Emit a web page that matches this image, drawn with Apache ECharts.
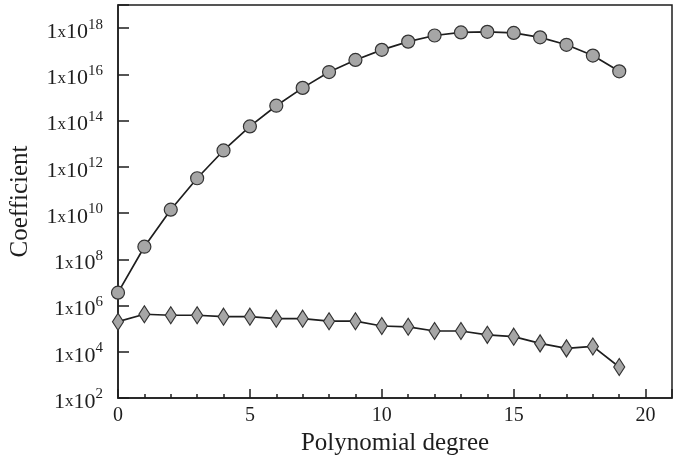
<!doctype html>
<html>
    <head>
        <meta charset="UTF-8">
        <title>Coefficient vs polynomial degree</title>
        <script src="https://cdn.jsdelivr.net/npm/echarts@6/dist/echarts.min.js"></script>
        <style>
            html, body { margin: 0; padding: 0; background: #fff; }
        </style>
    </head>
    <body>
        <div id="main" style="width: 685px;height:461px;"></div>
        <script type="text/javascript">
        // data
        var degrees = [0, 1, 2, 3, 4, 5, 6, 7, 8, 9, 10, 11, 12, 13, 14, 15, 16, 17, 18, 19];
        var circleCoef = [3.6e6, 3.5e8, 1.4e10, 3.2e11, 5.1e12, 5.6e13, 4.4e14, 2.6e15, 1.26e16, 4.2e16,
                          1.15e17, 2.6e17, 4.8e17, 6.5e17, 6.9e17, 6.2e17, 4.0e17, 1.9e17, 6.5e16, 1.35e16];
        var diamondCoef = [2.0e5, 4.2e5, 3.8e5, 3.8e5, 3.3e5, 3.3e5, 2.7e5, 2.7e5, 2.1e5, 2.1e5,
                           1.3e5, 1.2e5, 7.9e4, 7.9e4, 5.4e4, 4.5e4, 2.3e4, 1.4e4, 1.7e4, 2.2e3];
        var yExponents = [2, 4, 6, 8, 10, 12, 14, 16, 18];
        var xMajorTicks = [0, 5, 10, 15, 20];

        var serif = '"Liberation Serif", "DejaVu Serif", serif';
        var ink = '#1e1e1e';

        function pairs(ys) {
            return degrees.map(function (d, i) { return [d, ys[i]]; });
        }

        let myChart = echarts.init(document.getElementById('main'));
        var option = {
            animation: false,
            grid: {
                left: 117, right: 13, top: 5, bottom: 63,
                show: true, borderColor: ink, borderWidth: 1.5,
                containLabel: false
            },
            xAxis: [{
                type: 'value', min: 0, max: 21, interval: 5,
                name: 'Polynomial degree', nameLocation: 'middle', nameGap: 32,
                nameTextStyle: { fontFamily: serif, fontSize: 25, color: ink },
                axisLine: { lineStyle: { color: ink, width: 1.5 } },
                axisTick: { inside: true, length: 9, lineStyle: { color: ink, width: 1.5 } },
                axisLabel: {
                    fontFamily: serif, fontSize: 20, color: ink, margin: 8,
                    formatter: function (v) { return xMajorTicks.indexOf(v) >= 0 ? String(v) : ''; }
                },
                splitLine: { show: false }
            }, {
                // minor ticks at every degree
                type: 'value', min: 0, max: 21, interval: 1, position: 'bottom',
                axisLine: { show: false },
                axisTick: { inside: true, length: 4, lineStyle: { color: ink, width: 1.5 } },
                axisLabel: { show: false },
                splitLine: { show: false }
            }],
            yAxis: {
                type: 'log', logBase: 10, min: 1e2, max: 1e19, interval: 2,
                name: 'Coefficient', nameLocation: 'middle', nameGap: 85,
                nameTextStyle: { fontFamily: serif, fontSize: 25, color: ink },
                axisLine: { lineStyle: { color: ink, width: 1.5 } },
                axisTick: { inside: true, length: 11, lineStyle: { color: ink, width: 1.5 } },
                axisLabel: {
                    margin: 15,
                    padding: [8, 0, 0, 0],
                    formatter: function (v) {
                        var e = Math.round(Math.log10(v));
                        if (yExponents.indexOf(e) < 0) return '';
                        return '{n|1}{x|x}{n|10}{s|' + e + '}';
                    },
                    rich: {
                        n: { fontFamily: serif, fontSize: 22, color: ink },
                        x: { fontFamily: serif, fontSize: 17, color: ink },
                        s: { fontFamily: serif, fontSize: 15, color: ink, padding: [0, 0, 15, 0] }
                    }
                },
                splitLine: { show: false }
            },
            series: [{
                name: 'circles',
                type: 'line',
                data: pairs(circleCoef),
                symbol: 'circle',
                symbolSize: 13,
                lineStyle: { color: ink, width: 1.7 },
                itemStyle: { color: '#a6a6a6', borderColor: '#333', borderWidth: 1.2 },
                z: 3
            }, {
                name: 'diamonds',
                type: 'line',
                data: pairs(diamondCoef),
                symbol: 'diamond',
                symbolSize: [11, 17],
                lineStyle: { color: ink, width: 1.7 },
                itemStyle: { color: '#a6a6a6', borderColor: '#333', borderWidth: 1.2 },
                z: 3
            }]
        };

        myChart.setOption(option);
        </script>
    </body>
</html>
